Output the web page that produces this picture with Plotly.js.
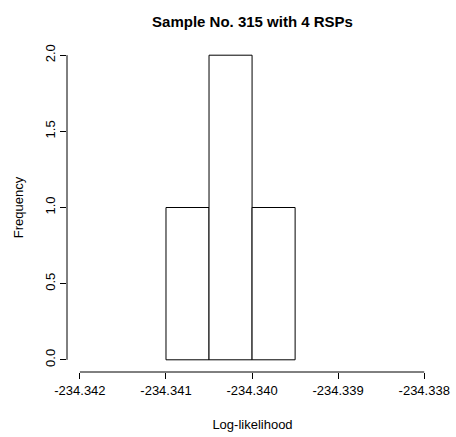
<!DOCTYPE html>
<html>
<head>
<meta charset="utf-8">
<script src="https://cdn.plot.ly/plotly-3.0.1.min.js"></script>
<style>html,body{margin:0;padding:0;background:#fff;}#chart{width:456px;height:437px;}</style>
</head>
<body>
<div id="chart"></div>
<script>
// Histogram bin edges and counts
const binEdges = [-234.3410, -234.3405, -234.3400, -234.3395];
const counts = [1, 2, 1];
// Axis ticks
const xTickVals = [-234.342, -234.341, -234.340, -234.339, -234.338];
const xTickText = ["-234.342", "-234.341", "-234.340", "-234.339", "-234.338"];
const yTickVals = [0, 0.5, 1, 1.5, 2];
const yTickText = ["0.0", "0.5", "1.0", "1.5", "2.0"];

const mids = [], widths = [];
for (let i = 0; i < counts.length; i++) {
  mids.push((binEdges[i] + binEdges[i + 1]) / 2);
  widths.push(binEdges[i + 1] - binEdges[i]);
}

const font = "Liberation Sans, Arial, Helvetica, sans-serif";

const trace = {
  type: "bar",
  x: mids,
  y: counts,
  width: widths,
  marker: { color: "#ffffff", line: { color: "#000000", width: 1 } },
  hoverinfo: "skip"
};

const layout = {
  width: 456,
  height: 437,
  autosize: false,
  paper_bgcolor: "#ffffff",
  plot_bgcolor: "#ffffff",
  margin: { l: 67, r: 18, t: 43, b: 65, pad: 0 },
  showlegend: false,
  font: { family: font, size: 12, color: "#000" },
  title: {
    text: "<b>Sample No. 315 with 4 RSPs</b>",
    font: { family: font, size: 15, color: "#000" },
    x: 0.5, xref: "paper", xanchor: "center",
    y: 16, yref: "container", yanchor: "middle"
  },
  xaxis: {
    range: [-234.34215, -234.33784],
    tickmode: "array",
    tickvals: xTickVals,
    ticktext: xTickText,
    ticks: "outside",
    ticklen: 6,
    tickwidth: 1,
    tickcolor: "#000",
    showline: false,
    zeroline: false,
    showgrid: false,
    tickfont: { family: font, size: 13, color: "#000" },
    title: { text: "Log-likelihood", font: { family: font, size: 13, color: "#000" }, standoff: 23 }
  },
  yaxis: {
    range: [-0.08, 2.08],
    tickmode: "array",
    tickvals: yTickVals,
    ticktext: yTickText,
    tickangle: -90,
    ticks: "outside",
    ticklen: 6,
    tickwidth: 1,
    tickcolor: "#000",
    showline: false,
    zeroline: false,
    showgrid: false,
    tickfont: { family: font, size: 13, color: "#000" },
    title: { text: "Frequency", font: { family: font, size: 13, color: "#000" }, standoff: 16 }
  },
  shapes: [
    { type: "line", xref: "x", yref: "paper", x0: xTickVals[0], x1: xTickVals[xTickVals.length - 1], y0: 0, y1: 0, line: { color: "#000", width: 1 } },
    { type: "line", xref: "paper", yref: "y", x0: 0, x1: 0, y0: yTickVals[0], y1: yTickVals[yTickVals.length - 1], line: { color: "#000", width: 1 } }
  ]
};

Plotly.newPlot("chart", [trace], layout, { displayModeBar: false, staticPlot: true });
</script>
</body>
</html>
